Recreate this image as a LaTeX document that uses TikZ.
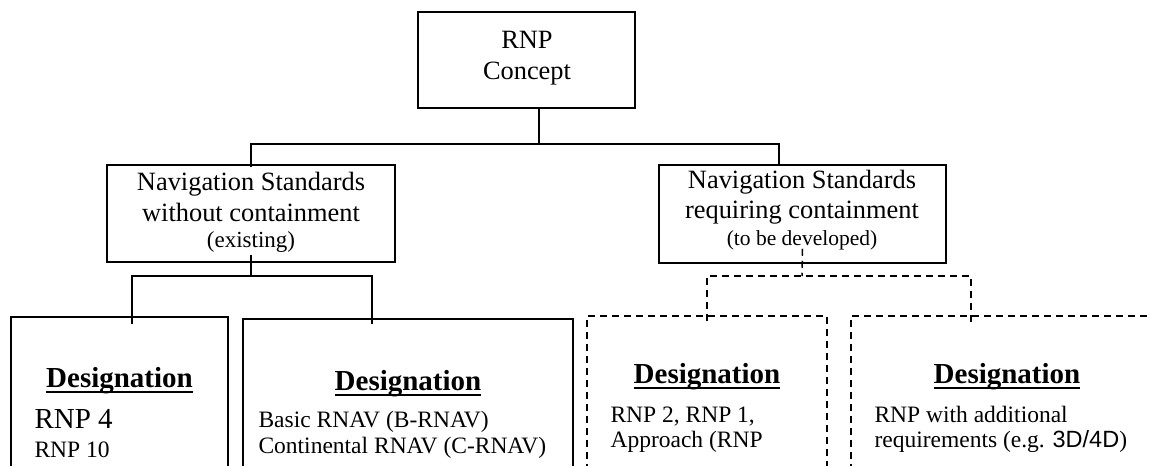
\documentclass[tikz,border=0pt]{standalone}
\usepackage{fontspec}
\setmainfont{Liberation Serif}
\newfontfamily\arialfont{Liberation Sans}
\newlength\ulwd
\newcommand\ulword[1]{\settowidth\ulwd{#1}\rlap{\rule[-5.5pt]{\ulwd}{2pt}}#1}

\begin{document}
\begin{tikzpicture}[x=1pt,y=-1pt,
  box/.style={draw,line width=1.5pt,inner sep=0pt},
  dbox/.style={box,dash pattern=on 7pt off 5pt},
  link/.style={line width=1.5pt},
  dlink/.style={link,dash pattern=on 7pt off 5pt},
  big/.style={anchor=base,font=\fontsize{26.4pt}{31pt}\selectfont},
  small/.style={anchor=base,font=\fontsize{23pt}{28pt}\selectfont},
  head/.style={anchor=base,font=\fontsize{29pt}{34pt}\selectfont\bfseries},
  item/.style={anchor=base west,font=\fontsize{23.5pt}{28pt}\selectfont}]
\useasboundingbox (0,0) rectangle (1149,466);
\clip (0,0) rectangle (1149,466);

% concept
\node (concept) [box,minimum width=217pt,minimum height=96pt] at (526.5,60) {};
\node (rnp) [big] at (527,48) {RNP};
\node (concepttxt) [big] at (527,79) {Concept};

% navigation standards
\node (stdnone) [box,minimum width=288pt,minimum height=97pt] at (251,213.5) {};
\node (stdnone1) [big] at (251,190) {Navigation Standards};
\node (stdnone2) [big] at (251,221) {without containment};
\node (stdnone3) [small] at (251,247) {(existing)};

\node (stdcont) [box,minimum width=287pt,minimum height=98pt] at (802.5,214) {};
\node (stdcont1) [big] at (802,188) {Navigation Standards};
\node (stdcont2) [big] at (802,218) {requiring containment};
\node (stdcont3) [small,font=\fontsize{21.5pt}{26pt}\selectfont] at (802,245) {(to be developed)};

% designations
\node (des1) [box,minimum width=217pt,minimum height=200pt] at (119.5,417) {};
\node (des1h) [head] at (119.5,387) {\ulword{Designation}};
\node (des1a) [item,font=\fontsize{29pt}{34pt}\selectfont] at (31,428) {RNP 4};
\node (des1b) [item] at (31,457) {RNP 10};

\node (des2) [box,minimum width=330pt,minimum height=200pt] at (408,419) {};
\node (des2h) [head] at (408,390) {\ulword{Designation}};
\node (des2a) [item] at (255,427) {Basic RNAV (B-RNAV)};
\node (des2b) [item] at (255,453) {Continental RNAV (C-RNAV)};

\node (des3) [dbox,minimum width=240pt,minimum height=200pt] at (707,416) {};
\node (des3h) [head] at (707,383) {\ulword{Designation}};
\node (des3a) [item] at (607,422) {RNP 2, RNP 1,};
\node (des3b) [item] at (607,447) {Approach (RNP};

\node (des4) [dbox,minimum width=312pt,minimum height=200pt] at (1007,416) {};
\node (des4h) [head] at (1007,383) {\ulword{Designation}};
\node (des4a) [item] at (871,422) {RNP with additional};
\node (des4b) [item] at (871,447) {requirements (e.g. {\arialfont 3D/4D})};

% connectors
\coordinate (jtop) at (539,144);
\coordinate (jleft) at (251,276);
\coordinate (jright) at (802,276);
\draw [link] (concept.south -| jtop) -- (jtop);
\draw [link] ([yshift=-3pt]stdnone.north) |- (jtop) -| ([xshift=-23.5pt]stdcont.north);
\draw [link] ([yshift=8pt]stdnone.south) -- (jleft);
\draw [link] ([xshift=12.5pt,yshift=-8pt]des1.north) |- (jleft) -| ([xshift=-36pt,yshift=-6pt]des2.north);
\draw [dlink] ([yshift=15pt]stdcont.south) -- (jright);
\draw [dlink] ([yshift=-6pt]des3.north) |- (jright) -| ([xshift=-36pt,yshift=-7pt]des4.north);
\end{tikzpicture}
\end{document}
